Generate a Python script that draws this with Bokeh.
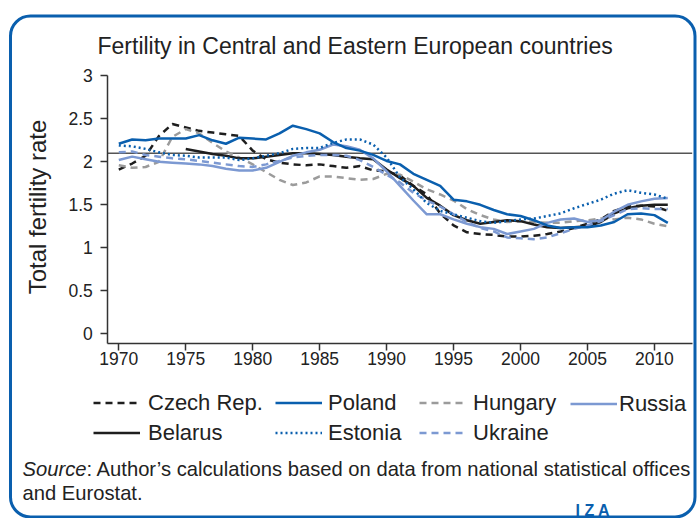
import math
from bokeh.plotting import figure
from bokeh.models import (Range1d, FixedTicker, Label, Legend, LegendItem,
                          BoxAnnotation)
from bokeh.embed import file_html
from bokeh.resources import INLINE

years = list(range(1970, 2012))
belarus_years = list(range(1975, 2012))

czech = [1.91, 1.98, 2.07, 2.30, 2.44, 2.40, 2.36, 2.34, 2.32, 2.30,
         2.13, 2.03, 1.99, 1.97, 1.96, 1.97, 1.95, 1.93, 1.95, 1.90,
         1.89, 1.84, 1.72, 1.62, 1.40, 1.26, 1.18, 1.16, 1.15, 1.13,
         1.13, 1.14, 1.16, 1.19, 1.23, 1.28, 1.33, 1.43, 1.48, 1.49,
         1.48, 1.43]
poland = [2.21, 2.26, 2.25, 2.27, 2.27, 2.27, 2.31, 2.25, 2.21, 2.28,
          2.27, 2.26, 2.33, 2.42, 2.38, 2.33, 2.23, 2.16, 2.13, 2.08,
          2.01, 1.97, 1.86, 1.79, 1.72, 1.56, 1.54, 1.50, 1.44, 1.39,
          1.37, 1.32, 1.26, 1.23, 1.24, 1.24, 1.26, 1.30, 1.39, 1.40,
          1.38, 1.29]
hungary = [1.96, 1.93, 1.94, 2.00, 2.29, 2.38, 2.33, 2.22, 2.12, 2.05,
           1.97, 1.88, 1.79, 1.73, 1.76, 1.83, 1.83, 1.81, 1.79, 1.80,
           1.86, 1.85, 1.77, 1.68, 1.62, 1.55, 1.45, 1.38, 1.33, 1.30,
           1.31, 1.30, 1.29, 1.29, 1.31, 1.32, 1.34, 1.33, 1.35, 1.33,
           1.28, 1.25]
russia = [2.02, 2.06, 2.03, 2.00, 1.99, 1.98, 1.97, 1.95, 1.92, 1.90,
          1.90, 1.93, 2.00, 2.07, 2.11, 2.14, 2.20, 2.18, 2.14, 2.04,
          1.89, 1.72, 1.55, 1.39, 1.39, 1.33, 1.28, 1.24, 1.22, 1.16,
          1.19, 1.22, 1.29, 1.33, 1.34, 1.30, 1.32, 1.42, 1.50, 1.54,
          1.57, 1.58]
belarus = [2.15, 2.12, 2.09, 2.07, 2.04, 2.04, 2.06, 2.08, 2.10, 2.10,
           2.09, 2.08, 2.06, 2.04, 2.03, 1.91, 1.81, 1.72, 1.58, 1.49,
           1.38, 1.32, 1.28, 1.30, 1.32, 1.31, 1.27, 1.24, 1.23, 1.24,
           1.25, 1.30, 1.40, 1.46, 1.49, 1.50, 1.50]
estonia = [2.19, 2.18, 2.15, 2.11, 2.08, 2.07, 2.05, 2.05, 2.05, 2.02,
           2.04, 2.07, 2.10, 2.15, 2.16, 2.16, 2.22, 2.26, 2.26, 2.20,
           2.05, 1.82, 1.68, 1.52, 1.43, 1.39, 1.35, 1.31, 1.29, 1.31,
           1.33, 1.34, 1.37, 1.40, 1.46, 1.51, 1.56, 1.63, 1.67, 1.64,
           1.62, 1.57]
ukraine = [2.11, 2.12, 2.08, 2.06, 2.04, 2.03, 2.01, 1.99, 1.97, 1.95,
           1.94, 1.97, 2.01, 2.05, 2.07, 2.08, 2.08, 2.07, 2.02, 1.94,
           1.85, 1.76, 1.64, 1.55, 1.48, 1.39, 1.30, 1.23, 1.19, 1.12,
           1.11, 1.10, 1.12, 1.17, 1.22, 1.26, 1.31, 1.38, 1.45, 1.46,
           1.45, 1.45]

replacement_level = 2.1
x_ticks = [1970, 1975, 1980, 1985, 1990, 1995, 2000, 2005, 2010]
y_ticks = [0, 0.5, 1, 1.5, 2, 2.5, 3]
y_tick_labels = ["0", "0.5", "1", "1.5", "2", "2.5", "3"]

title_text = "Fertility in Central and Eastern European countries"
y_label_text = "Total fertility rate"
source_italic = "Source"
source_rest = ": Author\u2019s calculations based on data from national statistical offices"
source_line2 = "and Eurostat."
logo_text = "I Z A"

FONT = "Liberation Sans"
BLUE = "#0a5fae"
LIGHT = "#7c99d2"
GRAY = "#9b9b9b"
BLACK = "#1e1e1e"
TEXT = "#222222"

# ---- layout (canvas 697 x 518, frame fills the canvas) ----
W, H = 697, 518
PX_PER_YEAR = 13.39
PX_PER_UNIT = 86.0
X0_PX, Y0_PX = 118.3, 333.3          # canvas px of (1970, 0) from top-left
x_start = 1970 - X0_PX / PX_PER_YEAR
x_end = 1970 + (W - X0_PX) / PX_PER_YEAR
y_end = Y0_PX / PX_PER_UNIT
y_start = -(H - Y0_PX) / PX_PER_UNIT
x_axis_bounds = (1970 - 11 / PX_PER_YEAR, 1970 + 573.4 / PX_PER_YEAR)
y_axis_bounds = (-10 / PX_PER_UNIT, 3.0)

p = figure(width=W, height=H, output_backend="svg", toolbar_location=None,
           x_range=Range1d(x_start, x_end), y_range=Range1d(y_start, y_end),
           min_border=0)
p.border_fill_color = "white"
p.background_fill_color = "white"
p.outline_line_color = None
p.xgrid.visible = False
p.ygrid.visible = False

xa, ya = p.xaxis[0], p.yaxis[0]
xa.fixed_location = y_axis_bounds[0]
ya.fixed_location = x_axis_bounds[0]
xa.bounds = x_axis_bounds
ya.bounds = y_axis_bounds
for ax in (xa, ya):
    ax.axis_line_color = "#333333"
    ax.axis_line_width = 1.5
    ax.major_tick_line_color = "#333333"
    ax.major_tick_line_width = 1.5
    ax.major_tick_in = 0
    ax.major_tick_out = 7
    ax.minor_tick_line_color = None
    ax.major_label_text_font = FONT
    ax.major_label_text_font_size = "17.5px"
    ax.major_label_text_color = TEXT
xa.ticker = FixedTicker(ticks=x_ticks)
ya.ticker = FixedTicker(ticks=y_ticks)
ya.major_label_overrides = dict(zip(y_ticks, y_tick_labels))
ya.major_label_standoff = 8
xa.major_label_standoff = 1

# replacement-level reference line across the plotting area
p.line(list(x_axis_bounds), [replacement_level, replacement_level],
       line_color="#555555", line_width=1.5)

lw = 2.5
r_cz = p.line(years, czech, line_color=BLACK, line_width=lw, line_dash="7 5")
r_hu = p.line(years, hungary, line_color=GRAY, line_width=lw, line_dash="7 5")
r_by = p.line(belarus_years, belarus, line_color=BLACK, line_width=lw, line_join="round")
r_ua = p.line(years, ukraine, line_color=LIGHT, line_width=lw, line_dash="7 5")
r_ru = p.line(years, russia, line_color=LIGHT, line_width=lw, line_join="round")
r_ee = p.line(years, estonia, line_color=BLUE, line_width=lw, line_dash="2 3")
r_pl = p.line(years, poland, line_color=BLUE, line_width=lw, line_join="round")

def make_legend(items, loc, standoff):
    leg = Legend(items=[LegendItem(label=l, renderers=[r]) for l, r in items],
                 location=loc, orientation="vertical", glyph_width=47,
                 glyph_height=25, label_height=25, spacing=4, padding=0, margin=0,
                 label_standoff=standoff, border_line_color=None,
                 background_fill_alpha=0, label_text_font=FONT,
                 label_text_font_size="22px", label_text_color=TEXT)
    p.add_layout(leg)

make_legend([("Czech Rep.", r_cz), ("Belarus", r_by)], (93, 72.5), 8)
make_legend([("Poland", r_pl), ("Estonia", r_ee)], (275, 72.5), 6)
make_legend([("Hungary", r_hu), ("Ukraine", r_ua)], (419, 72.5), 7)
make_legend([("Russia", r_ru)], (570, 101.5), 2)

def lab(x, y, text, size, **kw):
    opts = dict(x=x, y=y, x_units="screen", y_units="screen", text=text,
                text_font=FONT, text_font_size=size, text_color=TEXT,
                text_baseline="middle")
    opts.update(kw)
    p.add_layout(Label(**opts))

lab(97, 473, title_text, "23px")
lab(37, 311.5, y_label_text, "24px", angle=math.pi / 2, text_align="center")
lab(22, 50, source_italic, "20.2px", text_font_style="italic")
lab(86, 50, source_rest, "20.2px")
lab(22, 26, source_line2, "20.2px")
lab(575, 8.5, logo_text, "16px", text_font_style="bold", text_color=BLUE)

# rounded frame around the whole graphic
p.add_layout(BoxAnnotation(left=10, right=694.5, bottom=1.5, top=502.5,
                           left_units="screen", right_units="screen",
                           bottom_units="screen", top_units="screen",
                           fill_color=None, fill_alpha=0, line_color=BLUE,
                           line_alpha=1.0, line_width=3, border_radius=20))

open("out.html", "w").write(file_html(p, INLINE))
